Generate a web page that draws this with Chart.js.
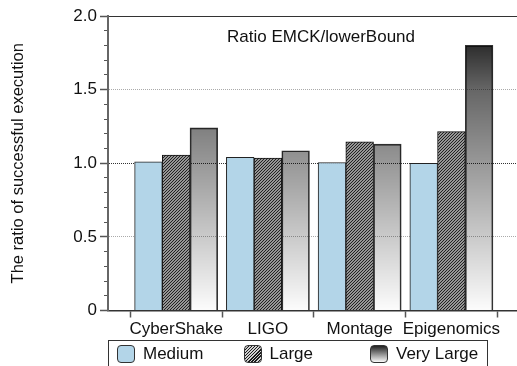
<!DOCTYPE html>
<html>
<head>
<meta charset="utf-8">
<script src="https://cdn.jsdelivr.net/npm/chart.js@4"></script>
<style>
  html, body { margin: 0; padding: 0; overflow: hidden; background: #fff; }
  #wrap { position: relative; width: 517px; height: 366px; overflow: hidden; }
  #legend {
    position: absolute; left: 108px; top: 340px; width: 380px; height: 40px;
    box-sizing: border-box; border: 1px solid #333;
    font-family: 'Liberation Sans', Arial, sans-serif; font-size: 17px; color: #111;
  }
  .item { position: absolute; top: 4px; height: 18px; line-height: 18px; white-space: nowrap; }
  .swatch {
    position: absolute; left: 0; top: 0; width: 16px; height: 16px;
    border: 1px solid #333; border-radius: 4px;
  }
  .item span { position: absolute; left: 26px; top: 0; }
</style>
</head>
<body>
<div id="wrap">
  <canvas id="chart" width="517" height="366"></canvas>
  <div id="legend"></div>
</div>
<script>
// data
const categories = ['CyberShake', 'LIGO', 'Montage', 'Epigenomics'];
const seriesNames = ['Medium', 'Large', 'Very Large'];
const mediumValues = [1.01, 1.04, 1.005, 1.0];
const largeValues = [1.055, 1.035, 1.145, 1.215];
const veryLargeValues = [1.24, 1.085, 1.13, 1.8];
const yTickLabels = ['0', '0.5', '1.0', '1.5', '2.0'];

const FONT = "'Liberation Sans', Arial, sans-serif";

// hatch pattern for the "Large" series
function makeHatch() {
    const c = document.createElement('canvas');
    c.width = 3; c.height = 3;
    const g = c.getContext('2d');
    g.fillStyle = '#c8c8c8';
    g.fillRect(0, 0, 3, 3);
    g.strokeStyle = '#1a1a1a';
    g.lineWidth = 1.1;
    g.beginPath();
    g.moveTo(0, 3); g.lineTo(3, 0);
    g.moveTo(-1, 1); g.lineTo(1, -1);
    g.moveTo(2, 4); g.lineTo(4, 2);
    g.stroke();
    return g.createPattern(c, 'repeat');
}

// vertical gray gradient, follows the y scale
function darkGradient(context) {
    const chart = context.chart;
    if (!chart.chartArea) return 'rgba(0,0,0,0.4)';
    const y = chart.scales.y;
    const g = chart.ctx.createLinearGradient(0, y.getPixelForValue(0), 0, y.getPixelForValue(2));
    g.addColorStop(0, 'rgba(0,0,0,0.01)');
    g.addColorStop(0.75, 'rgba(0,0,0,0.6)');
    g.addColorStop(1, 'rgba(0,0,0,0.97)');
    return g;
}

function toPoints(values) {
    return values.map((v, i) => ({ x: i, y: v }));
}

// title drawn inside the plot area
const innerTitle = {
    id: 'innerTitle',
    afterDraw(chart) {
        const { ctx, chartArea } = chart;
        ctx.save();
        ctx.font = '17px ' + FONT;
        ctx.fillStyle = '#111';
        ctx.textAlign = 'center';
        ctx.textBaseline = 'middle';
        ctx.fillText('Ratio EMCK/lowerBound', chartArea.left + 213, chartArea.top + 21);
        ctx.restore();
    }
};

const xMin = -0.743, xMax = 3.715;

const ctx = document.getElementById('chart').getContext('2d');
const chart = new Chart(ctx, {
    type: 'bar',
    data: {
        datasets: [
            { label: seriesNames[0], data: toPoints(mediumValues), backgroundColor: '#b3d5e8', borderColor: '#222', borderWidth: 1 },
            { label: seriesNames[1], data: toPoints(largeValues), backgroundColor: makeHatch(), borderColor: '#111', borderWidth: 1 },
            { label: seriesNames[2], data: toPoints(veryLargeValues), backgroundColor: darkGradient, borderColor: '#333', borderWidth: 1 }
        ]
    },
    options: {
        responsive: false,
        animation: false,
        barThickness: 27.7,
        layout: { padding: { left: 0, top: 16, right: 0, bottom: 26.5 } },
        plugins: {
            legend: { display: false },
            tooltip: { enabled: false }
        },
        scales: {
            x: {
                type: 'linear',
                position: 'bottom',
                offset: false,
                min: xMin,
                max: xMax,
                afterBuildTicks: (scale) => {
                    const t = [];
                    for (let v = -0.5; v <= categories.length - 0.5; v += 0.5) t.push({ value: v });
                    scale.ticks = t;
                },
                afterFit: (scale) => { scale.height = 29; },
                ticks: {
                    autoSkip: false,
                    maxRotation: 0,
                    padding: 1.5,
                    color: '#111',
                    font: { family: FONT, size: 17 },
                    callback: (v) => Number.isInteger(v) ? categories[v] : ''
                },
                grid: {
                    offset: false,
                    drawOnChartArea: false,
                    tickLength: 7,
                    tickWidth: 1.5,
                    tickColor: (c) => (c.tick && Number.isInteger(c.tick.value)) ? 'transparent' : '#555'
                },
                border: { color: '#333', width: 1.5 }
            },
            xTop: {
                type: 'linear',
                position: 'top',
                offset: false,
                min: xMin,
                max: xMax,
                afterFit: (scale) => { scale.height = 0; },
                ticks: { display: false },
                grid: { display: false },
                border: { color: '#333', width: 1 }
            },
            y: {
                min: 0,
                max: 2,
                weight: 1,
                afterFit: (scale) => { scale.width = 108; },
                ticks: {
                    stepSize: 0.5,
                    padding: 3,
                    color: '#111',
                    font: { family: FONT, size: 17 },
                    callback: (v, i) => yTickLabels[i]
                },
                grid: {
                    color: (c) => {
                        const v = c.tick ? c.tick.value : 0;
                        if (v === 1) return '#333';
                        if (v === 0.5 || v === 1.5) return '#aaa';
                        return 'transparent';
                    },
                    lineWidth: 1,
                    tickLength: 8,
                    tickWidth: 1.5,
                    tickColor: '#555'
                },
                border: { color: '#666', width: 2, dash: [1, 1] },
                title: {
                    display: true,
                    text: 'The ratio of successful execution',
                    color: '#111',
                    font: { family: FONT, size: 16.5 },
                    padding: { top: 8.5, bottom: 0 }
                }
            },
            yMinor: {
                position: 'left',
                min: 0,
                max: 2,
                weight: 0,
                afterFit: (scale) => { scale.width = 0; },
                ticks: { display: false, stepSize: 0.1 },
                grid: { drawOnChartArea: false, tickLength: 4, tickWidth: 1, tickColor: '#555' },
                border: { display: false }
            }
        }
    },
    plugins: [innerTitle]
});

// legend with fixed columns, like the original
const swatchStyles = [
    'background:#b3d5e8;',
    'background:repeating-linear-gradient(135deg,#1a1a1a 0 1px,#d0d0d0 1px 2.2px);',
    'background:linear-gradient(#222,#fafafa);'
];
const legendEl = document.getElementById('legend');
seriesNames.forEach((name, i) => {
    const item = document.createElement('div');
    item.className = 'item';
    item.style.left = (8 + i * 126.5) + 'px';
    item.innerHTML = '<div class="swatch" style="' + swatchStyles[i] + '"></div><span>' + name + '</span>';
    legendEl.appendChild(item);
});
</script>
</body>
</html>
